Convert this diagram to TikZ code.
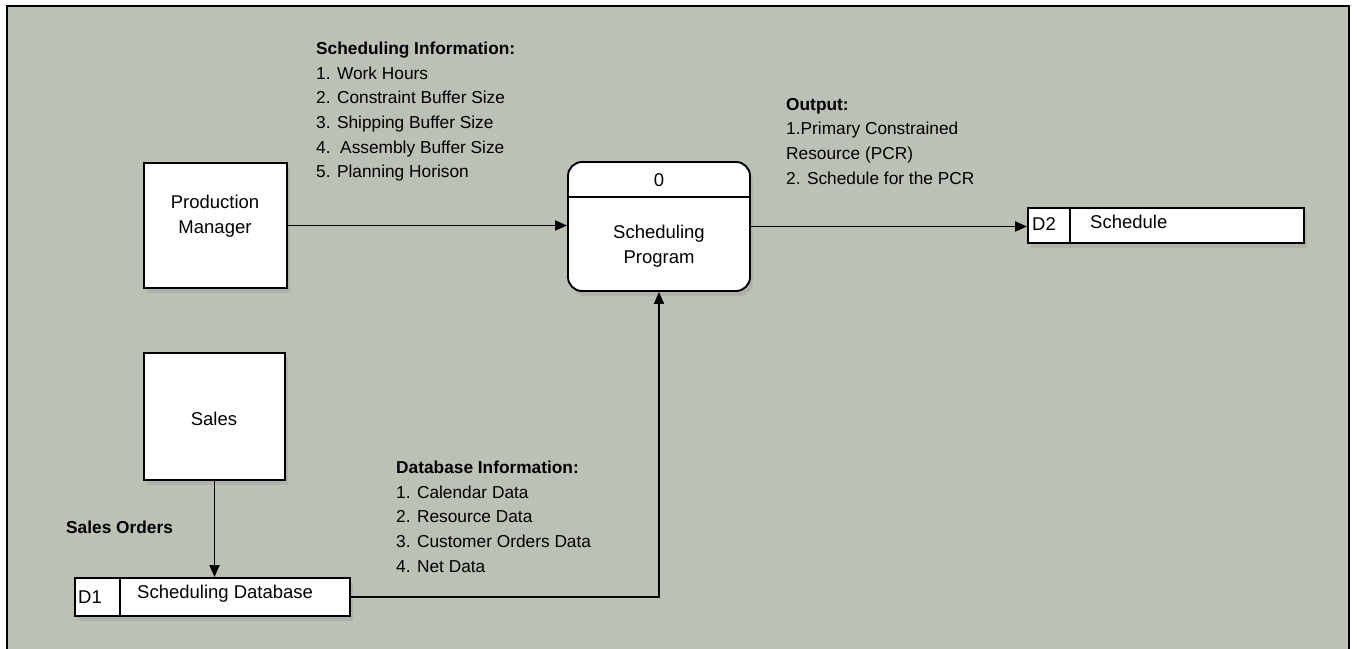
\documentclass[tikz,border=0pt]{standalone}
\usepackage{fontspec}
\setmainfont{Liberation Sans}
\usetikzlibrary{arrows.meta,shadows}
\definecolor{bg}{RGB}{188,193,182}
\begin{document}
\begin{tikzpicture}[x=1pt,y=-1pt,
  box/.style={draw=black, line width=1.9pt, fill=white, inner sep=0pt,
    drop shadow={opacity=0.22,shadow xshift=3pt,shadow yshift=-5pt}},
  nodetext/.style={font=\fontsize{18.5}{25}\selectfont, align=center, inner sep=0pt},
  storetext/.style={font=\fontsize{18.5}{25}\selectfont, anchor=west, inner sep=0pt},
  lbl/.style={font=\fontsize{17.3}{24.6}\selectfont, align=left, anchor=north west, inner sep=0pt},
  flow/.style={line width=1.8pt, -{Triangle[length=12pt,width=10pt]}},
  divider/.style={line width=1.7pt}]
\useasboundingbox (0,0) rectangle (1357,648);
\fill[white] (0,0) rectangle (1357,648);
\draw[line width=2.5pt, fill=bg] (7,6) rectangle (1349,652);

% external entities
\node[box, minimum width=143pt, minimum height=125pt] (pm) at (215.5,225.5) {};
\node[nodetext] (pmt) at (215,216) {Production\\Manager};
\node[box, minimum width=141pt, minimum height=127pt] (sales) at (214.5,416.5) {};
\node[nodetext] (salest) at (214,419) {Sales};

% process
\node[box, rounded corners=14pt, minimum width=182pt, minimum height=129pt] (sp) at (659,226.5) {};
\coordinate (spdiv) at (0,197);
\draw[divider] (sp.west |- spdiv) -- (sp.east |- spdiv);
\node[nodetext] (spnum) at (659,180) {0};
\node[nodetext] (spt) at (659,246) {Scheduling\\Program};

% data stores
\node[box, minimum width=276pt, minimum height=35pt] (d2) at (1166,225.5) {};
\coordinate (d2div) at (1070,0);
\draw[divider] (d2.north -| d2div) -- (d2.south -| d2div);
\node[storetext] (d2id) at (1032,224) {D2};
\node[storetext] (d2t) at (1090,222) {Schedule};

\node[box, minimum width=275pt, minimum height=38pt] (d1) at (212.5,597) {};
\coordinate (d1div) at (120,0);
\draw[divider] (d1.north -| d1div) -- (d1.south -| d1div);
\node[storetext] (d1id) at (78,597) {D1};
\node[storetext] (d1t) at (137,594) {Scheduling Database};

% flows
\draw[flow] (pm.east) -- (pm.east -| sp.west);
\draw[flow] (sp.east) -- (sp.east -| d2.west);
\draw[flow] (sales.south) -- (sales.south |- d1.north);
\draw[flow] (d1.east) -| (sp.south);

% flow labels
\node[lbl] (schedinfo) at (316,42) {{\bfseries Scheduling Information:}\\1. Work Hours\\2. Constraint Buffer Size\\3. Shipping Buffer Size\\4.\ \ Assembly Buffer Size\\5. Planning Horison};
\node[lbl] (output) at (786,98) {{\bfseries Output:}\\1.Primary Constrained\\Resource (PCR)\\2. Schedule for the PCR};
\node[lbl] (dbinfo) at (396,461) {{\bfseries Database Information:}\\1. Calendar Data\\2. Resource Data\\3. Customer Orders Data\\4. Net Data};
\node[lbl] (salesorders) at (66,521) {\bfseries Sales Orders};
\end{tikzpicture}
\end{document}
